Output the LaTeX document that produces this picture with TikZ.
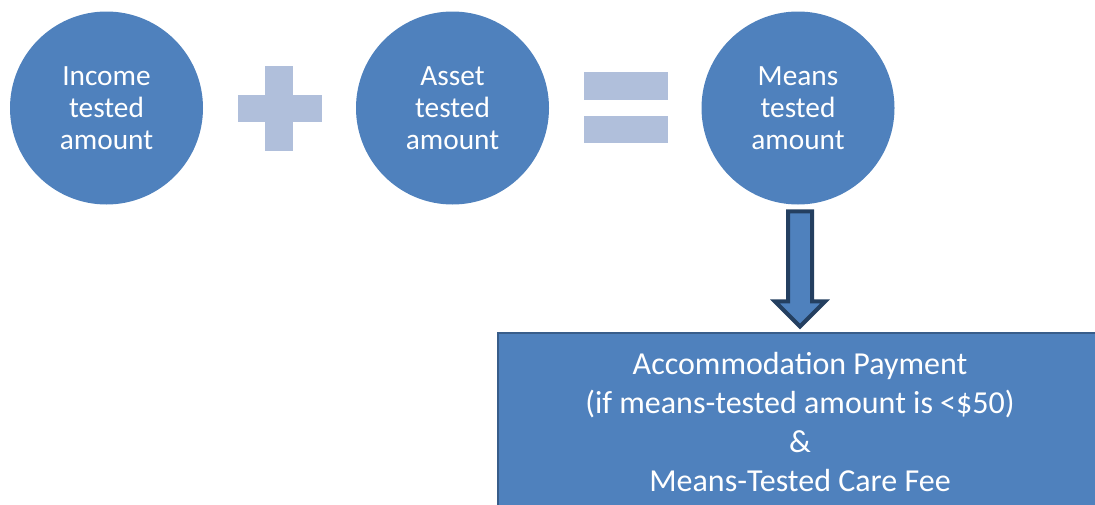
\documentclass[tikz,border=0pt]{standalone}
\usepackage{fontspec}
\setmainfont{Carlito}
\usepackage{tikz}
\usetikzlibrary{%
  positioning,%
  calc%
}
\definecolor{circblue}{HTML}{4F81BD}
\definecolor{signblue}{HTML}{B0BFDB}
\definecolor{arrownavy}{HTML}{243F60}
\definecolor{boxline}{HTML}{385D8A}

\begin{document}
\begin{tikzpicture}[x=0.75pt, y=-0.75pt]
  \useasboundingbox (0,0) rectangle (1095,504);
  \tikzset{amount/.style = {circle, fill=circblue, inner sep=0pt,
      minimum size=144.75pt, text=white, align=center,
      font=\fontsize{22}{24}\selectfont}}
  \tikzset{paybox/.style = {rectangle, draw=boxline, fill=circblue,
      line width=0.8pt, minimum width=453pt, minimum height=133.5pt,
      text=white, align=center, font=\fontsize{24}{29.25}\selectfont}}
  \tikzset{fatarrow/.style = {draw=arrownavy, fill=circblue,
      line width=3pt, miter limit=4}}

  \node[amount] (income) at (106.5,108) {Income\\tested\\amount};
  \node[amount] (asset)  at (452.5,108) {Asset\\tested\\amount};
  \node[amount] (means)  at (798,108)   {Means\\tested\\amount};

  \node[paybox] (payment) at (800,422)
    {Accommodation Payment\\(if means-tested amount is <\$50)\\\&\\Means-Tested Care Fee};

  % plus and equals signs
  \fill[signblue] (265,66) rectangle (293,151);
  \fill[signblue] (238,95) rectangle (322,122);
  \fill[signblue] (584,72) rectangle (668,100);
  \fill[signblue] (584,116) rectangle (668,143);

  % block arrow from means to payment
  \coordinate (top) at ($(means.south)+(2,6.5)$);
  \coordinate (tip) at ($(payment.north)+(0,-6)$);
  \draw[fatarrow] ($(top)+(-12,0)$) -- ($(top)+(12,0)$)
    -- ($(tip)+(12,-25)$) -- ($(tip)+(25,-25)$) -- (tip)
    -- ($(tip)+(-25,-25)$) -- ($(tip)+(-12,-25)$) -- cycle;
\end{tikzpicture}
\end{document}
